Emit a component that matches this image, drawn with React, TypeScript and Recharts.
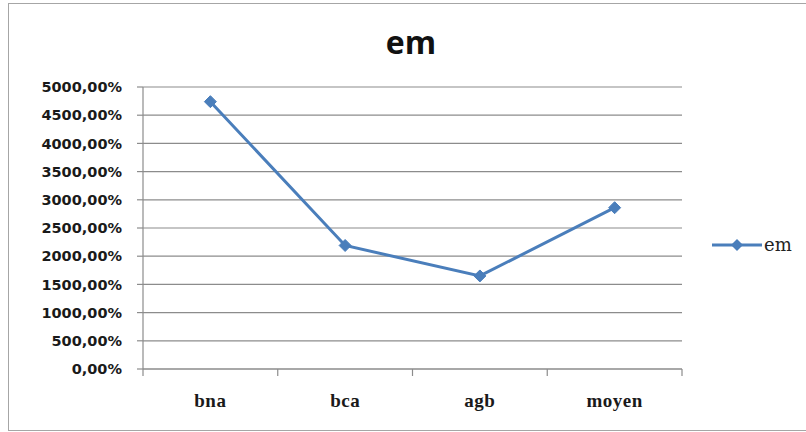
import React from "react";
import { LineChart, Line, XAxis, YAxis, CartesianGrid } from "recharts";

// categories and values (percent)
const categories = ["bna", "bca", "agb", "moyen"];
const emValues = [4740, 2190, 1650, 2860];
const yTicks = [0, 500, 1000, 1500, 2000, 2500, 3000, 3500, 4000, 4500, 5000];

const data = categories.map((name, i) => ({ name, em: emValues[i] }));

const BLUE = "#4a7ebb";
const GRID = "#8c8c8c";

const fmtPct = (v: number) => v.toFixed(2).replace(".", ",") + "%";

const Diamond = (props: any) => {
  const { cx, cy } = props;
  if (cx == null || cy == null) return null;
  const r = 6;
  return (
    <path
      d={`M${cx},${cy - r}L${cx + r},${cy}L${cx},${cy + r}L${cx - r},${cy}Z`}
      fill={BLUE}
      stroke={BLUE}
      strokeWidth={1}
    />
  );
};

// category label plus tick marks on the band edges (Excel style)
const CategoryTick = (props: any) => {
  const { x, y, payload, index, visibleTicksCount, width } = props;
  const half =
    payload && typeof payload.offset === "number" && payload.offset > 0
      ? payload.offset
      : width / visibleTicksCount / 2;
  const last = index === visibleTicksCount - 1;
  return (
    <g>
      <line x1={x - half} y1={y} x2={x - half} y2={y + 7} stroke={GRID} strokeWidth={1.2} />
      {last && (
        <line x1={x + half} y1={y} x2={x + half} y2={y + 7} stroke={GRID} strokeWidth={1.2} />
      )}
      <text
        x={x}
        y={y + 38}
        textAnchor="middle"
        fill="#1a1a1a"
        fontSize={19}
        fontWeight={700}
        letterSpacing={0.5}
        fontFamily="'Liberation Serif', serif"
      >
        {payload.value}
      </text>
    </g>
  );
};

const LegendBox = () => (
  <div style={{ display: "flex", alignItems: "center" }}>
    <svg width={50} height={14}>
      <line x1={0} y1={7} x2={50} y2={7} stroke={BLUE} strokeWidth={3} />
      <path d="M25,1L31,7L25,13L19,7Z" fill={BLUE} />
    </svg>
    <span
      style={{
        fontFamily: "'DejaVu Serif', serif",
        fontSize: 18,
        color: "#222",
        marginLeft: 2,
        lineHeight: "14px",
      }}
    >
      em
    </span>
  </div>
);

export default function App() {
  return (
    <div
      style={{
        position: "absolute",
        left: 0,
        top: 0,
        width: 806,
        height: 432,
        background: "#fff",
        overflow: "hidden",
      }}
    >
      <div
        style={{
          position: "absolute",
          left: 8,
          top: 3,
          width: 820,
          height: 426,
          border: "1.5px solid #a6a6a6",
          borderRightWidth: 0,
        }}
      />
      <div
        style={{
          position: "absolute",
          left: 0,
          width: 822,
          top: 22,
          textAlign: "center",
          fontFamily: "'Open Sans', sans-serif",
          fontWeight: 700,
          fontSize: 32,
          color: "#111",
          lineHeight: "40px",
        }}
      >
        em
      </div>
      <div style={{ position: "absolute", left: 0, top: 0 }}>
        <LineChart
          width={806}
          height={432}
          data={data}
          margin={{ top: 87, right: 124, bottom: 0, left: 0 }}
        >
          <CartesianGrid vertical={false} stroke={GRID} strokeWidth={1.2} />
          <XAxis
            dataKey="name"
            scale="band"
            stroke={GRID}
            strokeWidth={1.2}
            tickLine={false}
            tickSize={0}
            tickMargin={0}
            height={63}
            interval={0}
            tick={<CategoryTick />}
          />
          <YAxis
            domain={[0, 5000]}
            ticks={yTicks}
            tickFormatter={fmtPct}
            width={143}
            tickSize={6}
            tickMargin={15}
            stroke={GRID}
            strokeWidth={1.2}
            interval={0}
            tick={{
              fill: "#1a1a1a",
              fontSize: 14.5,
              fontWeight: 700,
              fontFamily: "'DejaVu Sans', sans-serif",
            }}
          />
          <Line
            dataKey="em"
            name="em"
            stroke={BLUE}
            strokeWidth={3}
            dot={<Diamond />}
            activeDot={false}
            isAnimationActive={false}
          />
        </LineChart>
      </div>
      <div style={{ position: "absolute", left: 712, top: 238 }}>
        <LegendBox />
      </div>
    </div>
  );
}
